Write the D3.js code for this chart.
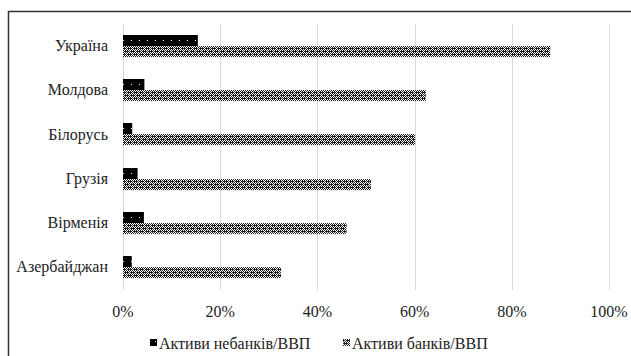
<!DOCTYPE html>
<html>
<head>
<meta charset="utf-8">
<script src="https://cdn.jsdelivr.net/npm/d3@7"></script>
<style>
  html, body { margin: 0; padding: 0; background: #fff; }
  svg { display: block; }
</style>
</head>
<body>
<svg id="chart" width="631" height="356"></svg>
<script>
// Countries, top to bottom
const categories = ["Україна", "Молдова", "Білорусь", "Грузія", "Вірменія", "Азербайджан"];
// Non-bank assets to GDP, %
const nonBankValues = [15.4, 4.4, 1.9, 3.0, 4.3, 1.8];
// Bank assets to GDP, %
const bankValues = [87.9, 62.3, 60.1, 51.0, 46.0, 32.5];
const seriesNames = ["Активи небанків/ВВП", "Активи банків/ВВП"];
const tickValues = [0, 20, 40, 60, 80, 100];

const FONT = "Tinos, 'Liberation Serif', 'Times New Roman', 'DejaVu Serif', serif";
const svg = d3.select("#chart");
const W = 631, H = 356;
const plot = { left: 123, right: 609, top: 24, bottom: 289 };

// Fill patterns
const defs = svg.append("defs");
const pDots = defs.append("pattern")
  .attr("id", "pat-nonbank").attr("patternUnits", "userSpaceOnUse")
  .attr("width", 8).attr("height", 8);
pDots.append("rect").attr("width", 8).attr("height", 8).attr("fill", "#000");
pDots.append("rect").attr("x", 3).attr("y", 5).attr("width", 1).attr("height", 1).attr("fill", "#fff");

const pGrid = defs.append("pattern")
  .attr("id", "pat-bank").attr("patternUnits", "userSpaceOnUse")
  .attr("width", 6).attr("height", 6);
pGrid.append("rect").attr("width", 6).attr("height", 6).attr("fill", "#fff");
for (let yy = 0; yy < 6; yy++) {
  for (let xx = 0; xx < 6; xx++) {
    if ((xx + yy) % 2 === 0 || (yy % 3 === 1 && xx % 3 !== 0)) {
      pGrid.append("rect").attr("x", xx).attr("y", yy).attr("width", 1).attr("height", 1).attr("fill", "#1a1a1a");
    }
  }
}

// Chart frame (top and left edges)
svg.append("path")
  .attr("d", `M8.5,${H} V11.5 H${W}`)
  .attr("fill", "none").attr("stroke", "#333").attr("stroke-width", 1.5);

const x = d3.scaleLinear().domain([0, 100]).range([plot.left, plot.right]);
const y = d3.scaleBand().domain(categories).range([plot.top, plot.bottom]).paddingInner(0.5).paddingOuter(0.25);
const ySub = d3.scaleBand().domain(seriesNames).range([0, y.bandwidth()]);

// Vertical gridlines
svg.append("g").selectAll("line").data(tickValues).join("line")
  .attr("x1", d => Math.round(x(d)) + 0.5).attr("x2", d => Math.round(x(d)) + 0.5)
  .attr("y1", plot.top).attr("y2", plot.bottom + 1)
  .attr("stroke", "#d9d9d9").attr("stroke-width", 1);

// Bars
const rows = categories.map((c, i) => ({ c, vals: [nonBankValues[i], bankValues[i]] }));
const fills = ["url(#pat-nonbank)", "url(#pat-bank)"];
const groups = svg.append("g").selectAll("g").data(rows).join("g")
  .attr("transform", d => `translate(0,${Math.round(y(d.c))})`);
groups.selectAll("rect").data(d => d.vals.map((v, k) => ({ v, k }))).join("rect")
  .attr("x", x(0))
  .attr("y", d => ySub(seriesNames[d.k]))
  .attr("width", d => x(d.v) - x(0))
  .attr("height", ySub.bandwidth())
  .attr("fill", d => fills[d.k]);

// Category labels at band centres
svg.append("g").selectAll("text").data(categories).join("text")
  .attr("x", 108)
  .attr("y", d => y(d) + y.bandwidth() / 2)
  .attr("dy", "0.32em")
  .attr("text-anchor", "end")
  .style("font-family", FONT).style("font-size", "16px").attr("fill", "#222")
  .text(d => d);

// Percent tick labels
svg.append("g").selectAll("text").data(tickValues).join("text")
  .attr("x", d => x(d))
  .attr("y", 317)
  .attr("text-anchor", "middle")
  .style("font-family", FONT).style("font-size", "16px").attr("fill", "#222")
  .text(d => d + "%");

// Legend
const legendItems = [
  { name: seriesNames[0], fill: fills[0], x: 150 },
  { name: seriesNames[1], fill: fills[1], x: 343 }
];
const legend = svg.append("g");
legendItems.forEach(it => {
  legend.append("rect").attr("x", it.x).attr("y", 339).attr("width", 7).attr("height", 7).attr("fill", it.fill);
  legend.append("text").attr("x", it.x + 9).attr("y", 349)
    .style("font-family", FONT).style("font-size", "16px").attr("fill", "#222")
    .text(it.name);
});
</script>
</body>
</html>
